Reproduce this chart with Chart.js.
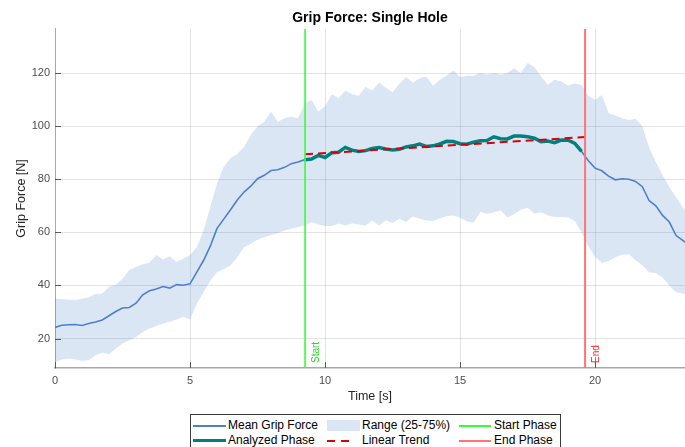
<!DOCTYPE html>
<html>
<head>
<meta charset="utf-8">
<script src="https://cdn.jsdelivr.net/npm/chart.js@4.4.1/dist/chart.umd.min.js"></script>
<style>
  html, body { margin: 0; padding: 0; background: #fff; overflow: hidden; }
  #wrap { position: relative; width: 685px; height: 447px; font-family: "Liberation Sans", Arial, sans-serif; }
  #legend { position: absolute; left: 190px; top: 414px; width: 371px; height: 42px; border: 1px solid #3a3a3a; box-sizing: border-box; background: #fff; }
  .item { position: absolute; height: 15px; line-height: 15px; font-size: 12px; color: #000; white-space: nowrap; }
  .sw { position: absolute; }
</style>
</head>
<body>
<div id="wrap">
  <canvas id="chart" width="685" height="447"></canvas>
  <div id="legend">
    <div class="sw" style="left:2px;top:10px;width:33px;height:2px;background:rgb(77,128,204)"></div>
    <div class="item" style="left:37px;top:3px">Mean Grip Force</div>
    <div class="sw" style="left:136px;top:5px;width:33px;height:11px;background:rgba(77,128,204,0.2)"></div>
    <div class="item" style="left:171px;top:3px">Range (25-75%)</div>
    <div class="sw" style="left:268px;top:10px;width:32px;height:2px;background:#33ff33"></div>
    <div class="item" style="left:303px;top:3px">Start Phase</div>

    <div class="sw" style="left:2px;top:24px;width:33px;height:3px;background:rgb(0,128,128)"></div>
    <div class="item" style="left:37px;top:18px">Analyzed Phase</div>
    <div class="sw" style="left:136px;top:25px;width:25px;height:2px;background:repeating-linear-gradient(90deg,#dd0000 0 8px,transparent 8px 14px)"></div>
    <div class="item" style="left:171px;top:18px">Linear Trend</div>
    <div class="sw" style="left:268px;top:25px;width:32px;height:2px;background:#ff7474"></div>
    <div class="item" style="left:303px;top:18px">End Phase</div>
  </div>
</div>
<script>
// sample times [s]
const timeS = [0, 0.25, 0.5, 0.75, 1, 1.25, 1.5, 1.75, 2, 2.25,
  2.5, 2.75, 3, 3.25, 3.5, 3.75, 4, 4.25, 4.5, 4.75,
  5, 5.25, 5.5, 5.75, 6, 6.25, 6.5, 6.75, 7, 7.25,
  7.5, 7.75, 8, 8.25, 8.5, 8.75, 9, 9.25, 9.5, 9.75,
  10, 10.25, 10.5, 10.75, 11, 11.25, 11.5, 11.75, 12, 12.25,
  12.5, 12.75, 13, 13.25, 13.5, 13.75, 14, 14.25, 14.5, 14.75,
  15, 15.25, 15.5, 15.75, 16, 16.25, 16.5, 16.75, 17, 17.25,
  17.5, 17.75, 18, 18.25, 18.5, 18.75, 19, 19.25, 19.5, 19.75,
  20, 20.25, 20.5, 20.75, 21, 21.25, 21.5, 21.75, 22, 22.25,
  22.5, 22.75, 23, 23.25, 23.33]

const meanForce = [24.2, 25.0, 25.2, 25.3, 24.9, 25.7, 26.2, 27.0, 28.6, 30.2,
  31.5, 31.7, 33.3, 36.5, 38.0, 38.7, 39.6, 39.0, 40.3, 40.1,
  40.6, 45.0, 49.4, 54.8, 61.5, 65.0, 68.5, 72.2, 75.2, 77.4,
  80.2, 81.5, 83.3, 83.6, 84.5, 85.9, 86.5, 87.4, 87.6, 89.0,
  88.2, 90.0, 90.2, 92.0, 91.0, 90.5, 90.8, 91.6, 92.0, 91.4,
  91.0, 91.3, 92.2, 92.6, 93.3, 92.4, 92.6, 93.3, 94.3, 94.2,
  93.4, 93.2, 94.0, 94.5, 94.6, 96.0, 95.3, 95.2, 96.3, 96.3,
  96.0, 95.5, 94.2, 94.4, 93.8, 94.8, 94.7, 93.5, 90.5, 87.0,
  84.2, 83.2, 81.2, 79.8, 80.2, 80.0, 79.2, 77.2, 72.0, 70.0,
  66.4, 63.9, 58.8, 57.0, 56.3]

// 75th percentile
const upperForce = [35.1, 34.8, 34.7, 34.4, 35.0, 35.6, 36.8, 37.0, 39.5, 40.3,
  42.5, 45.8, 47.0, 48.0, 48.6, 51.5, 49.8, 51.0, 48.8, 50.2,
  51.5, 54.4, 60.7, 69.6, 78.4, 84.7, 88.0, 89.5, 92.3, 96.7,
  100.0, 101.7, 105.5, 101.7, 103.0, 103.6, 103.0, 108.6, 110.0, 105.5,
  107.5, 112.0, 110.5, 113.5, 112.0, 111.5, 114.8, 113.5, 116.5, 114.5,
  112.8, 116.0, 118.5, 116.4, 118.1, 118.7, 115.2, 117.5, 119.0, 121.0,
  118.5, 119.0, 119.0, 120.0, 119.4, 120.0, 119.4, 120.0, 121.8, 120.0,
  123.8, 122.3, 118.7, 115.6, 117.5, 116.8, 115.3, 116.2, 115.5, 111.5,
  110.0, 111.8, 105.0, 104.0, 103.0, 102.3, 102.8, 100.0, 92.0, 86.5,
  81.5, 77.1, 73.2, 69.5, 68.3]

// 25th percentile
const lowerForce = [11.0, 12.1, 12.5, 12.1, 11.6, 11.8, 13.7, 14.6, 14.1, 16.2,
  18.1, 19.4, 20.6, 22.5, 23.8, 24.7, 25.7, 26.3, 27.2, 28.2,
  27.2, 33.0, 37.4, 41.8, 45.0, 46.2, 47.5, 50.6, 54.4, 55.7,
  57.2, 58.2, 59.0, 59.7, 60.7, 61.4, 62.0, 62.6, 63.8, 63.0,
  62.4, 62.4, 63.3, 62.6, 63.3, 63.0, 62.6, 64.5, 62.6, 64.6,
  63.5, 65.1, 63.9, 66.0, 65.1, 64.5, 64.3, 65.2, 66.2, 66.4,
  65.5, 64.2, 63.6, 67.7, 67.0, 67.5, 68.3, 65.6, 66.8, 68.5,
  69.3, 67.0, 67.6, 66.4, 65.8, 65.8, 65.6, 64.3, 60.0, 54.8,
  50.8, 48.5, 49.2, 50.6, 51.6, 51.8, 49.5, 47.6, 45.0, 44.6,
  43.0, 40.0, 37.4, 37.0, 36.8]

const phaseStart = 9.26
const phaseEnd = 19.63
const analyzedWindow = [9.25, 19.5]   // samples belonging to the analyzed phase
const trendTime = [9.26, 19.63]
const trendForce = [89.4, 95.9]

const xTicks = [0, 5, 10, 15, 20]
const yTicks = [20, 40, 60, 80, 100, 120]
const xRange = [0, 23.33]
const yRange = [8.9, 136.7]

const FONT = '"Liberation Sans", Arial, Helvetica, sans-serif'
Chart.defaults.font.family = FONT

const pts = (ys) => timeS.map((t, i) => ({ x: t, y: ys[i] }))
const analyzed = pts(meanForce).filter(p => p.x >= analyzedWindow[0] && p.x <= analyzedWindow[1])
const vline = (t) => [{ x: t, y: yRange[0] }, { x: t, y: yRange[1] }]

// MATLAB-ish inward tick marks and the rotated phase labels
const decorations = {
  id: 'decorations',
  afterDatasetsDraw(chart) {
    const { ctx, chartArea: a, scales: { x, y } } = chart
    ctx.save()
    ctx.strokeStyle = '#5a5a5a'
    ctx.lineWidth = 1
    ctx.beginPath()
    xTicks.forEach(v => {
      const px = Math.round(x.getPixelForValue(v)) + 0.5
      ctx.moveTo(px, a.bottom)
      ctx.lineTo(px, a.bottom - 6)
    })
    yTicks.forEach(v => {
      const py = Math.round(y.getPixelForValue(v)) + 0.5
      ctx.moveTo(a.left, py)
      ctx.lineTo(a.left + 6, py)
    })
    ctx.stroke()

    ctx.font = '10px ' + FONT
    ctx.textAlign = 'left'
    ctx.textBaseline = 'alphabetic'
    const label = (t, text, color) => {
      ctx.save()
      ctx.translate(x.getPixelForValue(t) + 14, a.bottom - 5)
      ctx.rotate(-Math.PI / 2)
      ctx.fillStyle = color
      ctx.fillText(text, 0, 0)
      ctx.restore()
    }
    label(phaseStart, 'Start', '#22dd22')
    label(phaseEnd, 'End', '#ff2a2a')
    ctx.restore()
  }
}

const gridColor = 'rgba(38,38,38,0.13)'
const axisColor = '#a8a8a8'

new Chart(document.getElementById('chart'), {
  type: 'line',
  data: {
    datasets: [
      { label: 'Start Phase', data: vline(phaseStart), borderColor: '#33ff33', borderWidth: 1.6, pointRadius: 0 },
      { label: 'End Phase', data: vline(phaseEnd), borderColor: '#ff7474', borderWidth: 2, pointRadius: 0 },
      { label: 'Linear Trend', data: trendTime.map((t, i) => ({ x: t, y: trendForce[i] })),
        borderColor: '#dd0000', borderWidth: 2, borderDash: [8, 5], pointRadius: 0 },
      { label: 'Analyzed Phase', data: analyzed, borderColor: 'rgb(0,128,128)', borderWidth: 3.5, pointRadius: 0 },
      { label: 'Mean Grip Force', data: pts(meanForce), borderColor: 'rgb(77,128,204)', borderWidth: 1.6, pointRadius: 0 },
      { label: 'Range (25-75%)', data: pts(upperForce), borderWidth: 0, pointRadius: 0,
        fill: '+1', backgroundColor: 'rgba(77,128,204,0.2)' },
      { label: 'p25', data: pts(lowerForce), borderWidth: 0, pointRadius: 0, fill: false }
    ]
  },
  options: {
    responsive: false,
    animation: false,
    devicePixelRatio: 1,
    layout: { padding: { left: 0, right: 0, top: 0, bottom: 40 } },
    scales: {
      x: {
        type: 'linear',
        min: xRange[0],
        max: xRange[1],
        afterBuildTicks: s => { s.ticks = xTicks.map(v => ({ value: v })) },
        afterFit: s => { s.height = 39 },
        grid: { color: gridColor, drawTicks: false },
        border: { color: axisColor, width: 1.5 },
        ticks: { color: '#4d4d4d', font: { size: 11 }, padding: 6, maxRotation: 0 },
        title: { display: true, text: 'Time [s]', color: '#262626', font: { size: 12.5 }, padding: { top: 0, bottom: 3 } }
      },
      y: {
        type: 'linear',
        min: yRange[0],
        max: yRange[1],
        afterBuildTicks: s => { s.ticks = yTicks.map(v => ({ value: v })) },
        afterFit: s => { s.width = 55 },
        grid: { color: gridColor, drawTicks: false },
        border: { color: axisColor, width: 1 },
        ticks: { color: '#4d4d4d', font: { size: 11 }, padding: 5 },
        title: { display: true, text: 'Grip Force [N]', color: '#262626', font: { size: 12.5 }, padding: { top: 14, bottom: 0 } }
      }
    },
    plugins: {
      legend: { display: false },
      tooltip: { enabled: false },
      title: {
        display: true,
        text: 'Grip Force: Single Hole',
        color: '#000',
        fullSize: false,
        font: { size: 14, weight: 'bold' },
        padding: { top: 10, bottom: 2 }
      }
    }
  },
  plugins: [decorations]
})
</script>
</body>
</html>
